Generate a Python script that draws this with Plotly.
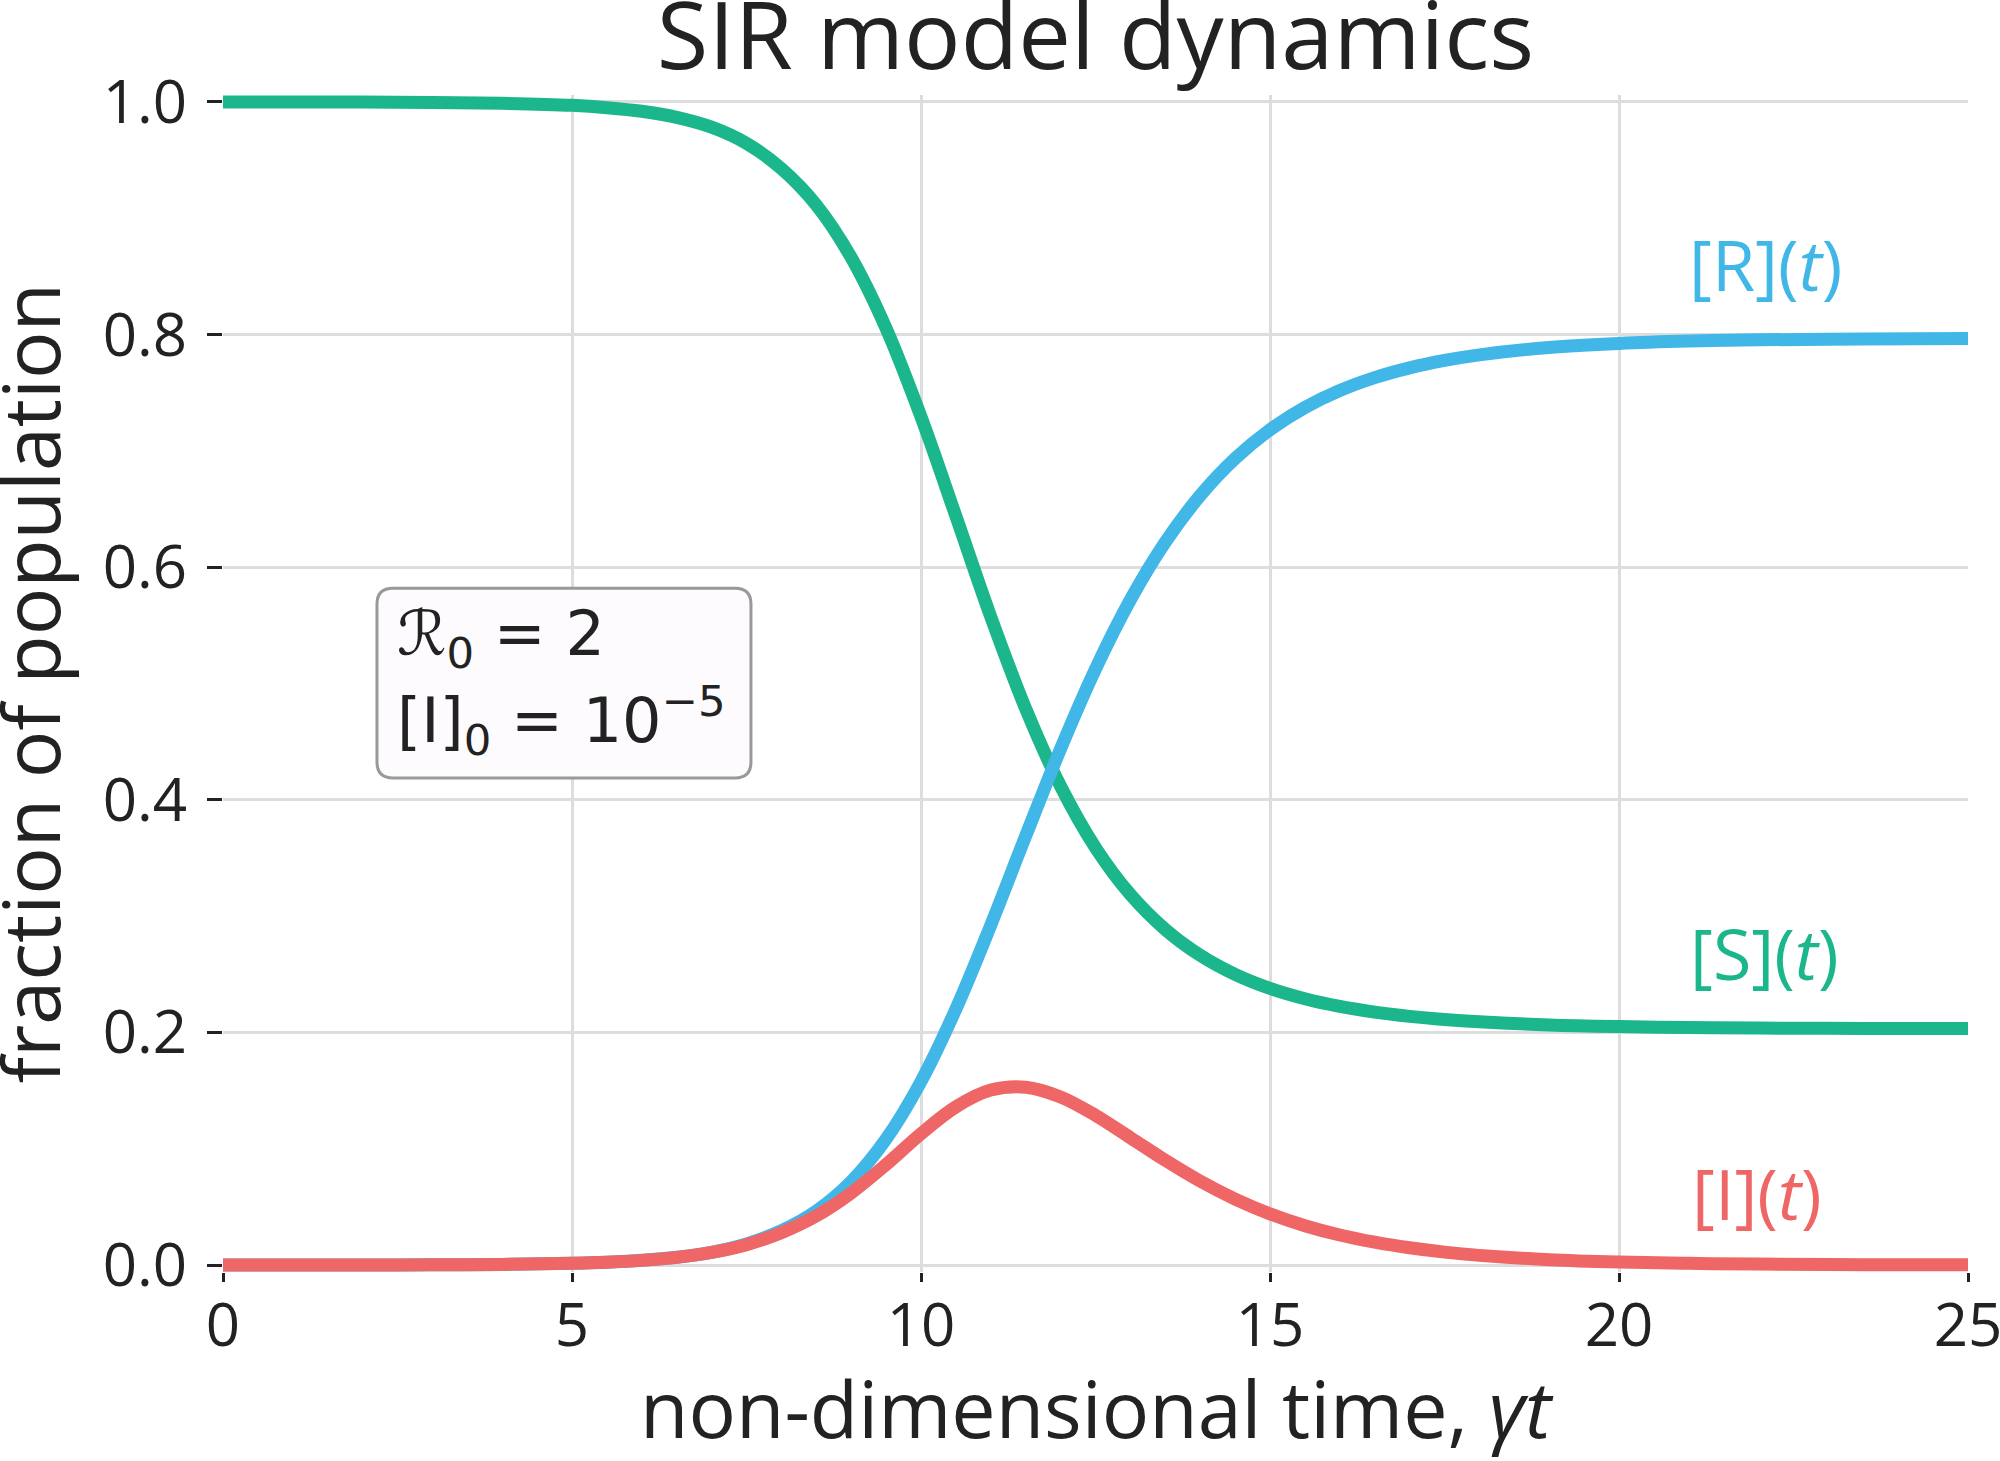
import plotly.graph_objects as go

# ---- data (fractions of population vs gamma*t) ----
time_pts = [0, 1, 2, 3, 4, 5, 5.5, 6, 6.5, 7, 7.5, 8, 8.5, 9, 9.5, 10, 10.5, 11, 11.5,
            12, 12.5, 13, 13.5, 14, 14.5, 15, 15.5, 16, 16.5, 17, 17.5, 18, 19, 20,
            21, 22, 23.5, 25]
frac_S = [1.0, 1.0, 0.9999, 0.9996, 0.9989, 0.9971, 0.9951, 0.9920, 0.9868, 0.9783,
          0.9644, 0.9427, 0.9114, 0.8662, 0.8053, 0.7293, 0.6439, 0.5573, 0.4782,
          0.4116, 0.3588, 0.3185, 0.2885, 0.2663, 0.2499, 0.2378, 0.2289, 0.2223,
          0.2174, 0.2138, 0.2111, 0.2091, 0.2064, 0.2050, 0.2042, 0.2037, 0.2034, 0.2033]
frac_I = [0.00001, 0.00003, 0.00007, 0.0002, 0.00055, 0.00148, 0.00244, 0.0040, 0.0066,
          0.0108, 0.0175, 0.0278, 0.0422, 0.0620, 0.0864, 0.1129, 0.1360, 0.1504,
          0.1529, 0.1445, 0.1287, 0.1095, 0.0900, 0.0721, 0.0567, 0.0440, 0.0338,
          0.0258, 0.0196, 0.0148, 0.0111, 0.0083, 0.0046, 0.0026, 0.00145, 0.0008,
          0.00034, 0.00014]
frac_R = [0.0, 0.00002, 0.00006, 0.0002, 0.00054, 0.00147, 0.00244, 0.00403, 0.00665,
          0.01096, 0.0181, 0.0295, 0.0464, 0.0718, 0.1083, 0.1578, 0.2201, 0.2923,
          0.3689, 0.4439, 0.5125, 0.5720, 0.6215, 0.6616, 0.6934, 0.7182, 0.7373,
          0.7519, 0.7630, 0.7714, 0.7778, 0.7826, 0.7889, 0.7924, 0.7944, 0.7955,
          0.7963, 0.7966]

x_ticks = [0, 5, 10, 15, 20, 25]
y_ticks = [0.0, 0.2, 0.4, 0.6, 0.8, 1.0]
y_ticktext = ["0.0", "0.2", "0.4", "0.6", "0.8", "1.0"]

series_labels = ["[S](<i>t</i>)", "[R](<i>t</i>)", "[I](<i>t</i>)"]
label_pos_x = [22.08, 22.1, 21.98]
label_pos_y = [0.268, 0.861, 0.062]

C_S = "#1bb68c"
C_R = "#41b7e8"
C_I = "#ef6666"
GRID = "#dddddd"
INK = "#222222"

fig = go.Figure()
for v, c in [(frac_S, C_S), (frac_R, C_R), (frac_I, C_I)]:
    fig.add_trace(go.Scatter(
        x=time_pts, y=v, mode="lines",
        line=dict(color=c, width=13, shape="spline", smoothing=1.0),
        showlegend=False, hoverinfo="skip"))

for txt, x, y, c in zip(series_labels, label_pos_x, label_pos_y, [C_S, C_R, C_I]):
    fig.add_annotation(x=x, y=y, xref="x", yref="y", text=txt, showarrow=False,
                       xanchor="center", yanchor="middle",
                       font=dict(family="Open Sans", size=70, color=c))

# parameter box
x0, x1, y0, y1 = 2.206, 7.564, 0.4188, 0.582
rx, ry = 0.23, 0.0137
path = (f"M {x0+rx},{y0} L {x1-rx},{y0} Q {x1},{y0} {x1},{y0+ry} "
        f"L {x1},{y1-ry} Q {x1},{y1} {x1-rx},{y1} L {x0+rx},{y1} "
        f"Q {x0},{y1} {x0},{y1-ry} L {x0},{y0+ry} Q {x0},{y0} {x0+rx},{y0} Z")
fig.add_shape(type="path", path=path, xref="x", yref="y",
              line=dict(color="#999999", width=3), fillcolor="#fdfbfd", layer="above")

fig.add_annotation(x=2.47, y=0.5395, xref="x", yref="y", text="ℛ<sub>0</sub> = 2",
                   showarrow=False, xanchor="left", yanchor="middle",
                   font=dict(family="DejaVu Sans", size=62, color=INK))
fig.add_annotation(x=2.47, y=0.4686, xref="x", yref="y",
                   text="[I]<sub>0</sub> = 10<sup>−5</sup>",
                   showarrow=False, xanchor="left", yanchor="middle",
                   font=dict(family="DejaVu Sans", size=62, color=INK))

# y-axis title placed as a rotated annotation for exact positioning
fig.add_annotation(x=0, y=0.5, xref="paper", yref="paper", xshift=-194,
                   text="fraction of population", textangle=-90, showarrow=False,
                   xanchor="center", yanchor="middle",
                   font=dict(family="Open Sans", size=79, color=INK))

fig.update_layout(
    width=2000, height=1461,
    margin=dict(l=223, r=32, t=95, b=189, autoexpand=False),
    paper_bgcolor="white", plot_bgcolor="white",
    font=dict(family="Open Sans", color=INK),
    title=dict(text="SIR model dynamics", x=0.5, xref="paper", xanchor="center",
               y=0.998, yref="container", yanchor="top",
               font=dict(family="Open Sans", size=94, color=INK)),
)
fig.update_xaxes(
    range=[0, 25], tickvals=x_ticks, ticks="outside", ticklen=9, tickwidth=2.5,
    tickcolor=INK, showgrid=True, gridcolor=GRID, gridwidth=2.5, zeroline=False,
    showline=False, tickfont=dict(size=60, color=INK), ticklabeloverflow="allow",
    ticklabelstandoff=-8,
    title=dict(text="non-dimensional time, <i>γt</i>", font=dict(size=79, color=INK),
               standoff=15),
    automargin=False)
fig.update_yaxes(
    range=[-0.006, 1.006], tickvals=y_ticks, ticktext=y_ticktext, ticks="outside",
    ticklen=15, tickwidth=2.5, tickcolor=INK, showgrid=True, gridcolor=GRID,
    gridwidth=2.5, zeroline=False, showline=False, tickfont=dict(size=60, color=INK),
    ticklabelstandoff=8, automargin=False)

fig.write_html("out.html", config={"displayModeBar": False},
               post_script="document.body.style.margin='0';")
